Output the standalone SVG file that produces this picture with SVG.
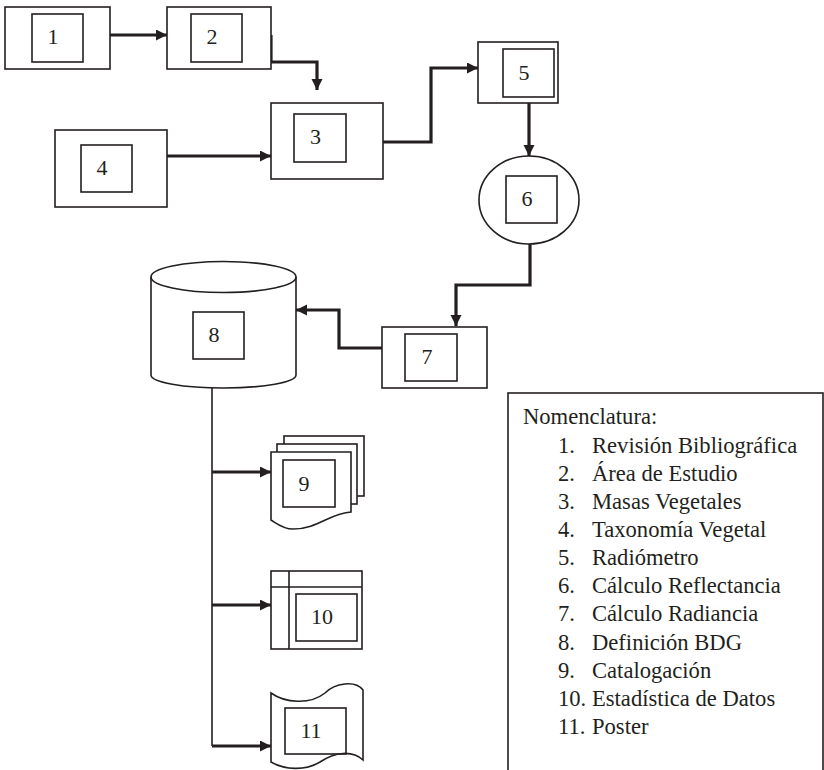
<svg xmlns="http://www.w3.org/2000/svg" width="824" height="770" viewBox="0 0 824 770">
<defs>
<style>
.o{fill:#fff;stroke:#231f20;stroke-width:1.6}
.i{fill:none;stroke:#231f20;stroke-width:1.6}
.t{font-family:"Liberation Serif","Times New Roman",serif;font-size:22px;fill:#231f20}
.l{font-size:22.6px}
.n{text-anchor:middle}
.c{fill:none;stroke:#231f20;stroke-width:3.2}
.b{fill:none;stroke:#231f20;stroke-width:1.6}
</style>
<marker id="ah" markerUnits="userSpaceOnUse" markerWidth="12" markerHeight="12" refX="11" refY="5.5" orient="auto">
<path d="M0,0 L11,5.5 L0,11 z" fill="#231f20"/>
</marker>
</defs>
<rect width="824" height="770" fill="#fff"/>
<g id="connectors">
<path class="c" d="M110,35 H167" marker-end="url(#ah)"/>
<path class="c" d="M271,35 V62 H317 V90" marker-end="url(#ah)"/>
<path class="c" d="M167,156 H271" marker-end="url(#ah)"/>
<path class="c" d="M383,142 H431 V68 H478" marker-end="url(#ah)"/>
<path class="c" d="M529,103 V156" marker-end="url(#ah)"/>
<path class="c" d="M530,244 V285 H456 V326" marker-end="url(#ah)"/>
<path class="c" d="M382,348 H339 V310 H296" marker-end="url(#ah)"/>
<path class="b" d="M212,388 V746"/>
<path class="c" d="M212,472 H271" marker-end="url(#ah)"/>
<path class="c" d="M212,605 H271" marker-end="url(#ah)"/>
<path class="c" d="M212,746 H271" marker-end="url(#ah)"/>
</g>
<g id="node1">
<rect class="o" x="5" y="7" width="105" height="62"/>
<rect class="i" x="32" y="14" width="51" height="48"/>
<text class="t n" x="53" y="44">1</text>
</g>
<g id="node2">
<rect class="o" x="167" y="7" width="104" height="62"/>
<rect class="i" x="191" y="14" width="51" height="48"/>
<text class="t n" x="212" y="44">2</text>
</g>
<g id="node3">
<rect class="o" x="271" y="103" width="112" height="76"/>
<rect class="i" x="294" y="114" width="52" height="48"/>
<text class="t n" x="315.5" y="144">3</text>
</g>
<g id="node4">
<rect class="o" x="55" y="130" width="112" height="77"/>
<rect class="i" x="81" y="145" width="51" height="47"/>
<text class="t n" x="102" y="175">4</text>
</g>
<g id="node5">
<rect class="o" x="478" y="42" width="80" height="61"/>
<rect class="i" x="503" y="49" width="51" height="48"/>
<text class="t n" x="524" y="80">5</text>
</g>
<g id="node6">
<ellipse class="o" cx="529" cy="200" rx="50" ry="44"/>
<rect class="i" x="506" y="176" width="51" height="47"/>
<text class="t n" x="527" y="206">6</text>
</g>
<g id="node7">
<rect class="o" x="382" y="327" width="105" height="61"/>
<rect class="i" x="405" y="334" width="52" height="47"/>
<text class="t n" x="427" y="364">7</text>
</g>
<g id="node8">
<path class="o" d="M151,277 A72.5,15.5 0 0 1 296,277 V375 A72.5,13 0 0 1 151,375 Z"/>
<path class="i" d="M151,277 A72.5,15.5 0 0 0 296,277"/>
<rect class="i" x="193" y="312" width="51" height="47"/>
<text class="t n" x="214" y="342">8</text>
</g>
<g id="node9">
<rect class="o" x="284" y="436" width="80" height="60"/>
<rect class="o" x="277" y="444" width="80" height="60"/>
<path class="o" d="M271,452 H351 V512 C330,513 318,529 293,529 C283,529 276,523 271,520 Z"/>
<rect class="i" x="283" y="460" width="52" height="47"/>
<text class="t n" x="304" y="491">9</text>
</g>
<g id="node10">
<rect class="o" x="271" y="571" width="91" height="78"/>
<path class="i" d="M271,587 H362 M289,571 V649"/>
<rect class="i" x="296" y="594" width="61" height="47"/>
<text class="t n" x="322" y="624">10</text>
</g>
<g id="node11">
<path class="o" d="M271,693 C285,703 310,705 325,693 C335,683 355,680 363,690 V760 C352,750 335,752 320,762 C305,771 285,770 271,762 Z"/>
<rect class="i" x="285" y="708" width="61" height="46"/>
<text class="t n" x="311" y="738">11</text>
</g>
<g id="legend">
<rect class="o" x="508" y="393" width="315" height="380"/>
<text class="t l" x="523" y="424">Nomenclatura:</text>
<g class="t l">
<text x="558" y="453">1.</text><text x="592" y="453">Revisión Bibliográfica</text>
<text x="558" y="481">2.</text><text x="592" y="481">Área de Estudio</text>
<text x="558" y="509">3.</text><text x="592" y="509">Masas Vegetales</text>
<text x="558" y="537">4.</text><text x="592" y="537">Taxonomía Vegetal</text>
<text x="558" y="565">5.</text><text x="592" y="565">Radiómetro</text>
<text x="558" y="593">6.</text><text x="592" y="593">Cálculo Reflectancia</text>
<text x="558" y="621">7.</text><text x="592" y="621">Cálculo Radiancia</text>
<text x="558" y="650">8.</text><text x="592" y="650">Definición BDG</text>
<text x="558" y="678">9.</text><text x="592" y="678">Catalogación</text>
<text x="558" y="706">10.</text><text x="592" y="706">Estadística de Datos</text>
<text x="558" y="734">11.</text><text x="592" y="734">Poster</text>
</g>
</g>
</svg>
